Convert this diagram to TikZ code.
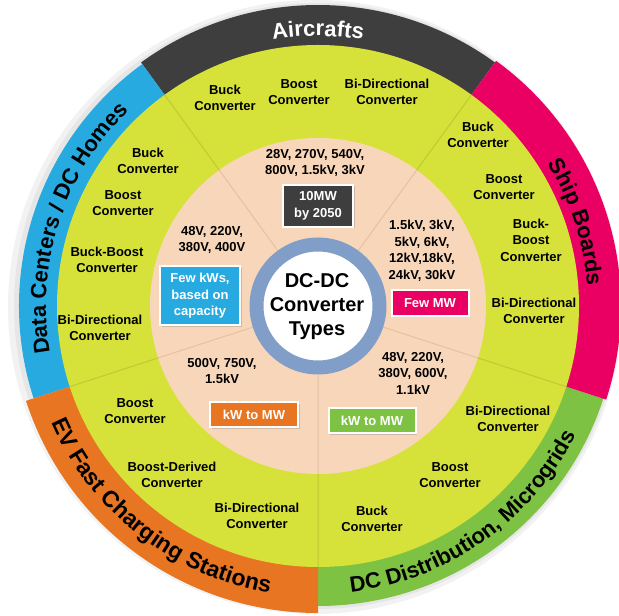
\documentclass[tikz,border=0pt]{standalone}
\usepackage{fontspec}
\setmainfont{Liberation Sans}
\usetikzlibrary{decorations.text,shadows}
\definecolor{ringlime}{RGB}{214,226,58}
\definecolor{limeline}{RGB}{190,202,48}
\definecolor{ringpeach}{RGB}{248,214,186}
\definecolor{peachline}{RGB}{232,192,160}
\definecolor{airgray}{RGB}{62,62,62}
\definecolor{shippink}{RGB}{234,0,98}
\definecolor{gridgreen}{RGB}{126,194,68}
\definecolor{evorange}{RGB}{232,117,34}
\definecolor{dccyan}{RGB}{38,170,224}
\definecolor{hubblue}{RGB}{128,158,200}
\newcommand{\bandfont}{\fontsize{22}{26}\selectfont\bfseries}
\newcommand{\evfont}{\fontsize{23}{27}\selectfont\bfseries}
\tikzstyle{conv}=[align=center,inner sep=0pt,font=\fontsize{13}{16.5}\selectfont\bfseries]
\tikzstyle{volt}=[conv]
\tikzstyle{badge}=[draw=white,line width=2pt,text=white,align=center,inner sep=0pt,
  font=\fontsize{13}{16.5}\selectfont\bfseries,
  drop shadow={opacity=0.35,shadow xshift=1.5pt,shadow yshift=-1.5pt}]

\begin{document}
\begin{tikzpicture}[x=1pt,y=1pt]
\useasboundingbox (0,0) rectangle (619,616);
\begin{scope}[shift={(318,310)}]
% soft shadow round the wheel
\fill[black,opacity=0.05] (-3,-1) circle[radius=307pt];
\fill[black,opacity=0.05] (-1,0) circle[radius=303pt];
% outer bands
\fill[airgray] (54:301) arc[start angle=54,end angle=126,radius=301pt] -- (126:260) arc[start angle=126,end angle=54,radius=260pt] -- cycle;
\fill[dccyan] (126:299) arc[start angle=126,end angle=198,radius=299pt] -- (198:260) arc[start angle=198,end angle=126,radius=260pt] -- cycle;
\fill[gridgreen] (270:300) arc[start angle=270,end angle=342,radius=300pt] -- (342:260) arc[start angle=342,end angle=270,radius=260pt] -- cycle;
\fill[shippink] (-18:303) arc[start angle=-18,end angle=54,radius=303pt] -- (54:260) arc[start angle=54,end angle=-18,radius=260pt] -- cycle;
\fill[evorange] (198:307) arc[start angle=198,end angle=270,radius=307pt] -- (270:260) arc[start angle=270,end angle=198,radius=260pt] -- cycle;
% inner rings
\fill[ringlime] (0,0) circle[radius=261pt];
\fill[ringpeach] (0,0) circle[radius=168pt];
\draw[limeline,line width=1pt] (54:168) -- (54:261) (126:168) -- (126:261) (198:168) -- (198:261)
  (270:168) -- (270:261) (342:168) -- (342:261);
\draw[peachline,line width=1pt] (54:68) -- (54:168) (126:68) -- (126:168) (198:68) -- (198:168)
  (270:68) -- (270:168) (342:68) -- (342:168);
% hub
\fill[white] (0,0) circle[radius=56pt];
\draw[hubblue,line width=14pt] (0,0) circle[radius=61.5pt];
% band titles
\path[decorate,decoration={text along path,text align=center,text color=white,
  text={|\bandfont|Aircrafts}}] (125:270) arc[start angle=125,end angle=55,radius=270pt];
\path[decorate,decoration={text along path,text align=center,text color=black,
  text={|\bandfont|Ship Boards}}] (54:270) arc[start angle=54,end angle=-18,radius=270pt];
\path[decorate,decoration={text along path,text align=center,text color=black,
  text={|\bandfont|Data Centers / DC Homes}}] (198:272) arc[start angle=198,end angle=126,radius=272pt];
\path[decorate,decoration={text along path,text align=center,text color=black,
  text={|\evfont|EV Fast Charging Stations}}] (192:291) arc[start angle=192,end angle=272,radius=291pt];
\path[decorate,decoration={text along path,text align=center,text color=black,
  text={|\bandfont|DC Distribution, Microgrids}}] (268:288) arc[start angle=268,end angle=342,radius=288pt];
\end{scope}

\node[font=\fontsize{20}{24}\selectfont\bfseries,align=center,inner sep=0pt] (hub) at (317,309) {DC-DC\\Converter\\Types};

% aircrafts
\node[conv] (airbuck) at (225,518) {Buck\\Converter};
\node[conv] (airboost) at (299,524) {Boost\\Converter};
\node[conv] (airbidir) at (387,524) {Bi-Directional\\Converter};
\node[volt] (airvolt) at (315,453) {28V, 270V, 540V,\\800V, 1.5kV, 3kV};
\node[badge,fill=airgray,minimum width=70pt,minimum height=42pt] (airbadge) at (318,410) {10MW\\by 2050};

% data centers
\node[conv] (dcbuck) at (148,455) {Buck\\Converter};
\node[conv] (dcboost) at (123,413) {Boost\\Converter};
\node[conv] (dcbb) at (107,356) {Buck-Boost\\Converter};
\node[conv] (dcbidir) at (100,288) {Bi-Directional\\Converter};
\node[volt] (dcvolt) at (212,376) {48V, 220V,\\380V, 400V};
\node[badge,fill=dccyan,minimum width=80pt,minimum height=59pt] (dcbadge) at (200,320) {Few kWs,\\based on\\capacity};

% ev charging
\node[conv] (evboost) at (135,205) {Boost\\Converter};
\node[conv] (evderived) at (172,141) {Boost-Derived\\Converter};
\node[conv] (evbidir) at (257,100) {Bi-Directional\\Converter};
\node[volt] (evvolt) at (222,245) {500V, 750V,\\1.5kV};
\node[badge,fill=evorange,minimum width=88pt,minimum height=25pt] (evbadge) at (254,201) {kW to MW};

% dc distribution
\node[conv] (ddbidir) at (508,197) {Bi-Directional\\Converter};
\node[conv] (ddboost) at (450,141) {Boost\\Converter};
\node[conv] (ddbuck) at (372,97) {Buck\\Converter};
\node[volt] (ddvolt) at (413,243) {48V, 220V,\\380V, 600V,\\1.1kV};
\node[badge,fill=gridgreen,minimum width=87pt,minimum height=25pt] (ddbadge) at (372,195) {kW to MW};

% ship boards
\node[conv] (shbuck) at (478,481) {Buck\\Converter};
\node[conv] (shboost) at (504,429) {Boost\\Converter};
\node[conv] (shbb) at (531,376) {Buck-\\Boost\\Converter};
\node[conv] (shbidir) at (534,305) {Bi-Directional\\Converter};
\node[volt] (shvolt) at (422,365) {1.5kV, 3kV,\\5kV, 6kV,\\12kV,18kV,\\24kV, 30kV};
\node[badge,fill=shippink,minimum width=77pt,minimum height=26pt] (shbadge) at (430,313) {Few MW};
\end{tikzpicture}
\end{document}
